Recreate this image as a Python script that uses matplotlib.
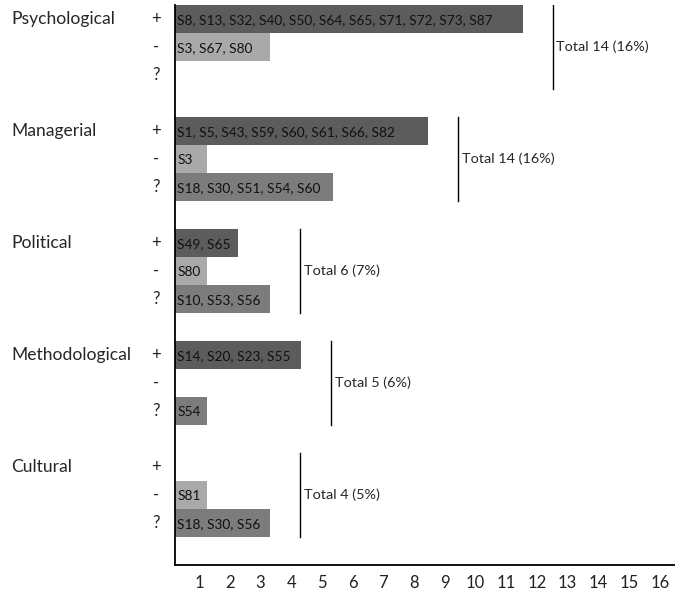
import matplotlib
matplotlib.use("Agg")
import matplotlib.pyplot as plt
import matplotlib.transforms as mtransforms
import numpy as np

# studies reported per concern category and effect (+ positive, - negative, ? unclear)
categories = ["Psychological", "Managerial", "Political", "Methodological", "Cultural"]
signs = ["+", "-", "?"]
psychological = [["S8", "S13", "S32", "S40", "S50", "S64", "S65", "S71", "S72", "S73", "S87"],
                 ["S3", "S67", "S80"],
                 []]
managerial = [["S1", "S5", "S43", "S59", "S60", "S61", "S66", "S82"],
              ["S3"],
              ["S18", "S30", "S51", "S54", "S60"]]
political = [["S49", "S65"], ["S80"], ["S10", "S53", "S56"]]
methodological = [["S14", "S20", "S23", "S55"], [], ["S54"]]
cultural = [[], ["S81"], ["S18", "S30", "S56"]]
totals = [14, 14, 6, 5, 4]
total_pct = [16, 16, 7, 6, 5]
xticks = list(range(1, 17))

groups = [psychological, managerial, political, methodological, cultural]
colors = {"+": "#5c5c5c", "-": "#a9a9a9", "?": "#7c7c7c"}
plt.rcParams["font.family"] = ["Lato", "DejaVu Sans"]

fig = plt.figure(figsize=(6.75, 5.93), dpi=100)
ax = fig.add_axes([175 / 675, 28 / 593, 500 / 675, 560 / 593])
trans = mtransforms.blended_transform_factory(fig.transFigure, ax.transData)

slot = 0
for cat, grp, tot, pct in zip(categories, groups, totals, total_pct):
    top = slot
    for sign, studies in zip(signs, grp):
        n = len(studies)
        if n:
            ax.barh(slot, n, height=1.0, color=colors[sign], edgecolor="none")
            ax.text(0.07, slot + 0.03, ", ".join(studies), va="center", ha="left",
                    fontsize=9.9, color="#111111")
        ax.text(156 / 675, slot, sign, transform=trans, ha="center", va="center",
                fontsize=12, color="#222222")
        slot += 1
    ax.text(11 / 675, top, cat, transform=trans, ha="left", va="center",
            fontsize=12.6, color="#262626")
    xmax = max(len(s) for s in grp) + 0.95
    ax.plot([xmax, xmax], [top - 0.5, top + 2.5], color="black", lw=1.0)
    ax.text(xmax + 0.12, top + 1, f"Total {tot} ({pct}%)", va="center", ha="left",
            fontsize=10.4, color="#262626")
    slot += 1  # empty slot between groups

ax.set_ylim(slot - 0.5, -0.5)
ax.set_xlim(0, 15.82)
ax.set_yticks([])
# tick labels in the source sit slightly left of the unit marks and are a bit tighter
ax.set_xticks(0.76 + (np.array(xticks) - 1) * 0.972)
ax.set_xticklabels([str(t) for t in xticks], fontsize=12, color="#222222")
ax.tick_params(axis="x", length=0, pad=7)
ax.spines[["top", "right"]].set_visible(False)
for s in ["left", "bottom"]:
    ax.spines[s].set_linewidth(1.3)
    ax.spines[s].set_color("black")

fig.savefig("out.png", dpi=100)
